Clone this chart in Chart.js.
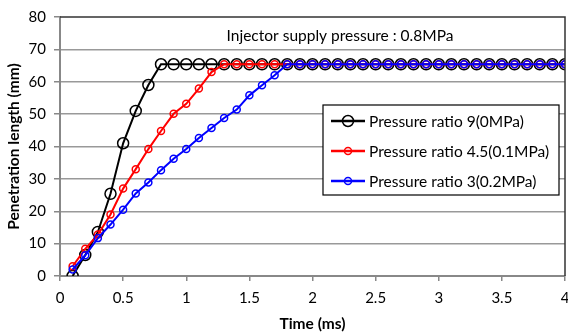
<!DOCTYPE html>
<html>
<head>
<meta charset="utf-8">
<title>Penetration length</title>
<script src="https://cdn.jsdelivr.net/npm/chart.js@4.4.1/dist/chart.umd.min.js"></script>
<style>
  html,body{margin:0;padding:0;background:#fff;overflow:hidden;}
  #wrap{position:relative;width:568px;height:334px;overflow:hidden;}
</style>
</head>
<body>
<div id="wrap"><canvas id="penChart" width="572" height="334"></canvas></div>
<script>
// data
const times = [0.1,0.2,0.3,0.4,0.5,0.6,0.7,0.8,0.9,1.0,1.1,1.2,1.3,1.4,1.5,1.6,1.7,1.8,1.9,2.0,
               2.1,2.2,2.3,2.4,2.5,2.6,2.7,2.8,2.9,3.0,3.1,3.2,3.3,3.4,3.5,3.6,3.7,3.8,3.9,4.0];
const ratio9 = [0,6.5,13.6,25.4,41,51,59,65.4,65.4,65.4,65.4,65.4,65.4,65.4,65.4,65.4,65.4,65.4,65.4,65.4,
                65.4,65.4,65.4,65.4,65.4,65.4,65.4,65.4,65.4,65.4,65.4,65.4,65.4,65.4,65.4,65.4,65.4,65.4,65.4,65.4];
const ratio45 = [3,8.4,12.8,19,27,33,39.2,44.8,50.1,53.2,57.9,63,65.4,65.4,65.4,65.4,65.4,65.4,65.4,65.4,
                 65.4,65.4,65.4,65.4,65.4,65.4,65.4,65.4,65.4,65.4,65.4,65.4,65.4,65.4,65.4,65.4,65.4,65.4,65.4,65.4];
const ratio3 = [2,6.4,11.7,15.9,20.5,25.5,28.9,32.7,36.2,39.2,42.6,45.7,48.8,51.4,55.8,58.9,62,65.4,65.4,65.4,
                65.4,65.4,65.4,65.4,65.4,65.4,65.4,65.4,65.4,65.4,65.4,65.4,65.4,65.4,65.4,65.4,65.4,65.4,65.4,65.4];
const seriesLabels = ['Pressure ratio 9(0MPa)','Pressure ratio 4.5(0.1MPa)','Pressure ratio 3(0.2MPa)'];
const chartTitle = 'Injector supply pressure : 0.8MPa';

const FONT = 'Lato, "Open Sans", sans-serif';
const pts = (ys) => times.map((t,i)=>({x:t,y:ys[i]}));

// title, frame and boxed legend drawn inside the plot area
const innerDeco = {
  id:'innerDeco',
  afterDatasetsDraw(chart){
    const {ctx, chartArea:a} = chart;
    ctx.save();
    // dark top/right frame
    ctx.strokeStyle = '#333'; ctx.lineWidth = 1.5;
    ctx.beginPath();
    ctx.moveTo(a.left, a.top); ctx.lineTo(a.right, a.top); ctx.lineTo(a.right, a.bottom);
    ctx.stroke();
    // title
    ctx.fillStyle = '#000';
    ctx.font = '15.5px ' + FONT;
    ctx.textAlign = 'center'; ctx.textBaseline = 'middle';
    ctx.fillText(chartTitle, a.left + 280, a.top + 19);
    // legend box
    const lx = a.right - 242, ly = a.top + 88, lw = 236, lh = 90;
    ctx.fillStyle = '#fff';
    ctx.fillRect(lx, ly, lw, lh);
    ctx.strokeStyle = '#000'; ctx.lineWidth = 1.2;
    ctx.strokeRect(lx, ly, lw, lh);
    chart.data.datasets.forEach((ds, i)=>{
      const y = ly + 16 + i*30;
      ctx.strokeStyle = ds.borderColor; ctx.lineWidth = 2.5;
      ctx.beginPath(); ctx.moveTo(lx + 8, y); ctx.lineTo(lx + 42, y); ctx.stroke();
      ctx.lineWidth = 1.5;
      ctx.beginPath(); ctx.arc(lx + 25, y, ds.pointRadius, 0, Math.PI*2); ctx.stroke();
      ctx.fillStyle = '#000';
      ctx.font = '15.5px ' + FONT;
      ctx.textAlign = 'left';
      ctx.fillText(ds.label, lx + 46, y + 1);
    });
    ctx.restore();
  }
};

const mk = (label, ys, color, r, order) => ({
  label, data: pts(ys), borderColor: color, backgroundColor: 'transparent',
  borderWidth: 2, pointRadius: r, pointBorderWidth: 1.5, pointBackgroundColor: 'transparent',
  pointBorderColor: color, tension: 0, order
});

new Chart(document.getElementById('penChart'), {
  type: 'line',
  data: {
    datasets: [
      mk(seriesLabels[0], ratio9, '#000000', 5.5, 3),
      mk(seriesLabels[1], ratio45, '#ff0000', 3.5, 2),
      mk(seriesLabels[2], ratio3, '#0000ff', 3.5, 1)
    ]
  },
  options: {
    responsive: false, animation: false,
    layout: {padding: {top: 8, right: 0, left: 0, bottom: 0}},
    plugins: {legend: {display: false}, tooltip: {enabled: false}},
    scales: {
      x: {
        type: 'linear', min: 0, max: 4,
        afterFit: (s)=>{ s.height = 58; s.paddingLeft = 0; s.paddingRight = 0; },
        ticks: {stepSize: 0.5, color: '#000', font: {family: FONT, size: 15}, padding: 8, maxRotation: 0,
                callback: (v)=> String(v)},
        grid: {drawOnChartArea: false, color: '#888', tickLength: 5, lineWidth: 1.5},
        border: {color: '#888', width: 2},
        title: {display: true, text: 'Time (ms)', color: '#000', font: {family: FONT, size: 15.5, weight: 'bold'}, padding: {top: 4, bottom: 1}}
      },
      y: {
        min: 0, max: 80,
        afterFit: (s)=>{ s.width = 60; },
        ticks: {stepSize: 10, color: '#000', font: {family: FONT, size: 15}, padding: 8},
        grid: {
          color: (c)=> (c.tick && (c.tick.value === 0 || c.tick.value === 80)) ? 'rgba(0,0,0,0)' : '#999',
          tickColor: '#888', lineWidth: 1.5, tickLength: 6,
          borderDash: [5, 4], tickBorderDash: []
        },
        border: {color: '#888', width: 2},
        title: {display: true, text: 'Penetration length (mm)', color: '#000', font: {family: FONT, size: 15.5, weight: 'bold'}, padding: {top: 5, bottom: 0}}
      }
    }
  },
  plugins: [innerDeco]
});
</script>
</body>
</html>
